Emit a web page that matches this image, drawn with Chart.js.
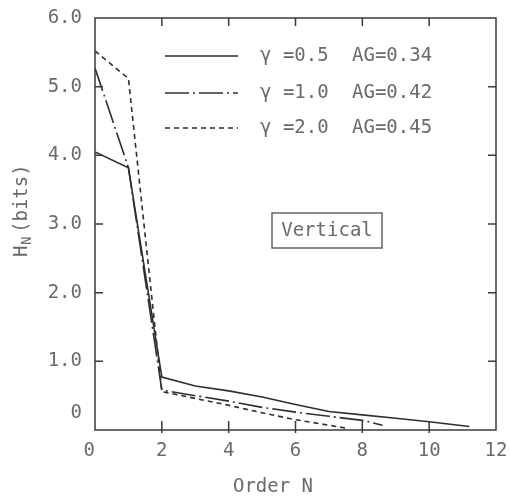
<!DOCTYPE html>
<html>
<head>
<meta charset="utf-8">
<script src="https://cdn.jsdelivr.net/npm/chart.js@4"></script>
<style>
  body { margin: 0; background: #fff; }
  canvas { display: block; }
</style>
</head>
<body>
<canvas id="chart" width="510" height="498"></canvas>
<script>
// order N and entropy H_N (bits) for each gamma
const orderA = [0, 1, 2, 3, 4, 5, 6, 7, 8, 9, 10, 11.2];
const entropyA = [4.05, 3.82, 0.77, 0.64, 0.57, 0.48, 0.37, 0.27, 0.22, 0.17, 0.12, 0.05];
const orderB = [0, 1, 2, 3, 4, 5, 6, 7, 8, 8.6];
const entropyB = [5.27, 3.82, 0.58, 0.5, 0.42, 0.33, 0.26, 0.2, 0.14, 0.07];
const orderC = [0, 1, 2, 3, 4, 5, 6, 7, 7.6];
const entropyC = [5.52, 5.12, 0.56, 0.46, 0.36, 0.25, 0.15, 0.07, 0.02];

const gammas = ['0.5', '1.0', '2.0'];
const agValues = ['0.34', '0.42', '0.45'];
const dashes = [[], [24, 4, 2, 4], [5, 4]];

const xTicks = [0, 2, 4, 6, 8, 10, 12];
const yTicks = [0, 1, 2, 3, 4, 5, 6];

const FONT = '"DejaVu Sans Mono", monospace';
const TEXT = '#6a6a6a';
const INK = '#2e2e2e';

function toPoints(xs, ys) {
    return xs.map((x, i) => ({ x: x, y: ys[i] }));
}

const series = [toPoints(orderA, entropyA), toPoints(orderB, entropyB), toPoints(orderC, entropyC)];

const decor = {
    id: 'decor',
    afterDraw(chart) {
        const ctx = chart.ctx;
        const area = chart.chartArea;
        const xs = chart.scales.x;
        const ys = chart.scales.y;
        ctx.save();

        // frame
        ctx.strokeStyle = '#3a3a3a';
        ctx.lineWidth = 1.5;
        ctx.strokeRect(area.left, area.top, area.right - area.left, area.bottom - area.top);

        // inward ticks on all four sides
        ctx.beginPath();
        xTicks.slice(1, -1).forEach(v => {
            const px = xs.getPixelForValue(v);
            ctx.moveTo(px, area.bottom + 3);
            ctx.lineTo(px, area.bottom - 9);
            ctx.moveTo(px, area.top);
            ctx.lineTo(px, area.top + 8);
        });
        yTicks.slice(1, -1).forEach(v => {
            const py = ys.getPixelForValue(v);
            ctx.moveTo(area.left, py);
            ctx.lineTo(area.left + 8, py);
            ctx.moveTo(area.right, py);
            ctx.lineTo(area.right - 8, py);
        });
        ctx.stroke();

        // legend inside the plot
        ctx.font = '19px ' + FONT;
        ctx.textBaseline = 'middle';
        ctx.textAlign = 'left';
        const rows = [56, 93, 128];
        chart.data.datasets.forEach((ds, i) => {
            ctx.strokeStyle = INK;
            ctx.lineWidth = 1.6;
            ctx.setLineDash(ds.borderDash);
            ctx.beginPath();
            ctx.moveTo(165, rows[i]);
            ctx.lineTo(238, rows[i]);
            ctx.stroke();
            ctx.setLineDash([]);
            ctx.fillStyle = TEXT;
            ctx.fillText('γ =' + gammas[i], 260, rows[i]);
            ctx.fillText('AG=' + agValues[i], 352, rows[i]);
        });

        // "Vertical" box
        ctx.strokeStyle = '#5a5a5a';
        ctx.lineWidth = 1.4;
        ctx.strokeRect(272, 213, 110, 35);
        ctx.fillStyle = TEXT;
        ctx.textAlign = 'center';
        ctx.fillText('Vertical', 327, 231);

        // x axis title
        ctx.fillText('Order N', 273, 487);

        // y axis title with subscript N
        ctx.translate(22, 257);
        ctx.rotate(-Math.PI / 2);
        ctx.textAlign = 'left';
        ctx.font = '19px ' + FONT;
        ctx.fillText('H', 0, 0);
        ctx.font = '14px ' + FONT;
        ctx.fillText('N', 12, 5);
        ctx.font = '19px ' + FONT;
        ctx.fillText('(bits)', 24, 0);

        ctx.restore();
    }
};

new Chart(document.getElementById('chart').getContext('2d'), {
    type: 'line',
    data: {
        datasets: series.map((pts, i) => ({
            label: 'γ =' + gammas[i] + '  AG=' + agValues[i],
            data: pts,
            borderColor: INK,
            borderWidth: 1.6,
            borderDash: dashes[i],
            pointRadius: 0,
            tension: 0,
            fill: false
        }))
    },
    options: {
        responsive: false,
        animation: false,
        layout: { padding: { top: 18, right: 14, left: 0, bottom: 0 } },
        plugins: {
            legend: { display: false },
            tooltip: { enabled: false }
        },
        scales: {
            x: {
                type: 'linear',
                min: 0,
                max: 12,
                afterFit: s => {
                    s.height = 68;
                    s.paddingLeft = 0;
                    s.paddingRight = 0;
                },
                grid: { display: false, drawTicks: false },
                border: { display: false },
                afterBuildTicks: s => { s.ticks = xTicks.map(v => ({ value: v })); },
                ticks: {
                    padding: 10,
                    color: TEXT,
                    font: { family: FONT, size: 19 },
                    maxRotation: 0,
                    callback: v => v === 0 ? '0 ' : String(v)
                }
            },
            y: {
                min: 0,
                max: 6,
                afterFit: s => {
                    s.width = 95;
                    s.paddingTop = 0;
                    s.paddingBottom = 0;
                },
                grid: { display: false, drawTicks: false },
                border: { display: false },
                afterBuildTicks: s => { s.ticks = yTicks.map(v => ({ value: v })); },
                ticks: {
                    padding: 13,
                    color: TEXT,
                    font: { family: FONT, size: 19, lineHeight: 0.9 },
                    callback: v => v === 0 ? ['0', '', ''] : v.toFixed(1)
                }
            }
        }
    },
    plugins: [decor]
});
</script>
</body>
</html>
